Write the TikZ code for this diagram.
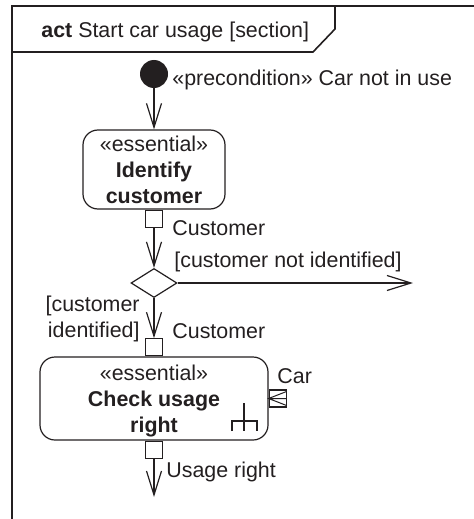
\documentclass[tikz,border=0pt]{standalone}
\usepackage{fontspec}
\setmainfont{Liberation Sans}
\usetikzlibrary{arrows.meta,shapes.geometric}
\definecolor{umlink}{HTML}{231F20}

\begin{document}
\begin{tikzpicture}[
    x=0.5pt,y=-0.5pt,
    every node/.style={font=\fontsize{10.7}{13}\selectfont,text=umlink},
    action/.style={draw=umlink,line width=0.6pt,rounded corners=7.5pt,align=center,inner sep=0pt},
    objpin/.style={draw=umlink,line width=0.6pt,fill=white,minimum size=8.5pt,inner sep=0pt},
    decision/.style={draw=umlink,line width=0.6pt,diamond,minimum width=23pt,minimum height=14.5pt,inner sep=0pt},
    startdot/.style={circle,fill=umlink,minimum size=14pt,inner sep=0pt},
    caption/.style={inner sep=0pt,anchor=base west},
    flow/.style={draw=umlink,line width=0.6pt,-{Straight Barb[length=12pt,width=7.5pt]}}
]
\useasboundingbox (0,0) rectangle (474,519);
% frame of the activity (section)
\draw[umlink,line width=1pt] (12,519) -- (12,6) -- (474,6);
\draw[umlink,line width=0.8pt] (12,52) -- (313,52) -- (335,29) -- (335,6);
\node[caption] (title) at (41,38) {\textbf{act} Start car usage [section]};

% start
\node[startdot] (start) at (154,74) {};
\node[caption] (pre) at (172,86) {«precondition» Car not in use};

% identify customer
\node[action,minimum width=71pt,minimum height=39.5pt] (identify) at (154,169.5) {«essential»\\\textbf{Identify}\\\textbf{customer}};
\node[objpin,anchor=north] (custOut) at (identify.south) {};
\node[caption] (custOutLabel) at (172,235) {Customer};

% decision
\node[decision] (check) at (154,283) {};
\coordinate (notIdent) at (413,283);
\node[caption] (notIdentLabel) at (174,267) {[customer not identified]};
\node[inner sep=0pt,align=right,anchor=east] (identLabel) at (140,319) {[customer\\identified]};

% check usage right
\node[action,minimum width=114pt,minimum height=41.5pt] (usage) at (154,398.5) {\rule{0pt}{10.5pt}«essential»\\\textbf{Check usage}\\\textbf{right}};
\node[objpin,anchor=south] (custIn) at (usage.north) {};
\node[caption] (custInLabel) at (172,338) {Customer};
\node[objpin,anchor=west] (carIn) at (usage.east) {};
\node[caption] (carLabel) at (277,383) {Car};
\node[objpin,anchor=north] (usageOut) at (usage.south) {};
\node[caption] (usageOutLabel) at (166,477) {Usage right};
\coordinate (usageEnd) at (154,497);

% arrow inside the car pin and rake symbol
\draw[umlink,line width=0.5pt] (carIn.east) -- (carIn.west)
    ([yshift=-1pt]carIn.north east) -- (carIn.west) -- ([yshift=1pt]carIn.south east);
\draw[umlink,line width=0.6pt] (244,403) -- (244,431)
    (232,431) -- (232,421) -- (257,421) -- (257,431);

% flows
\draw[flow] (start) -- (identify);
\draw[flow] (custOut) -- (check);
\draw[flow] (check) -- (notIdent);
\draw[flow] (check) -- (custIn);
\draw[flow] (usageOut) -- (usageEnd);
\end{tikzpicture}
\end{document}
